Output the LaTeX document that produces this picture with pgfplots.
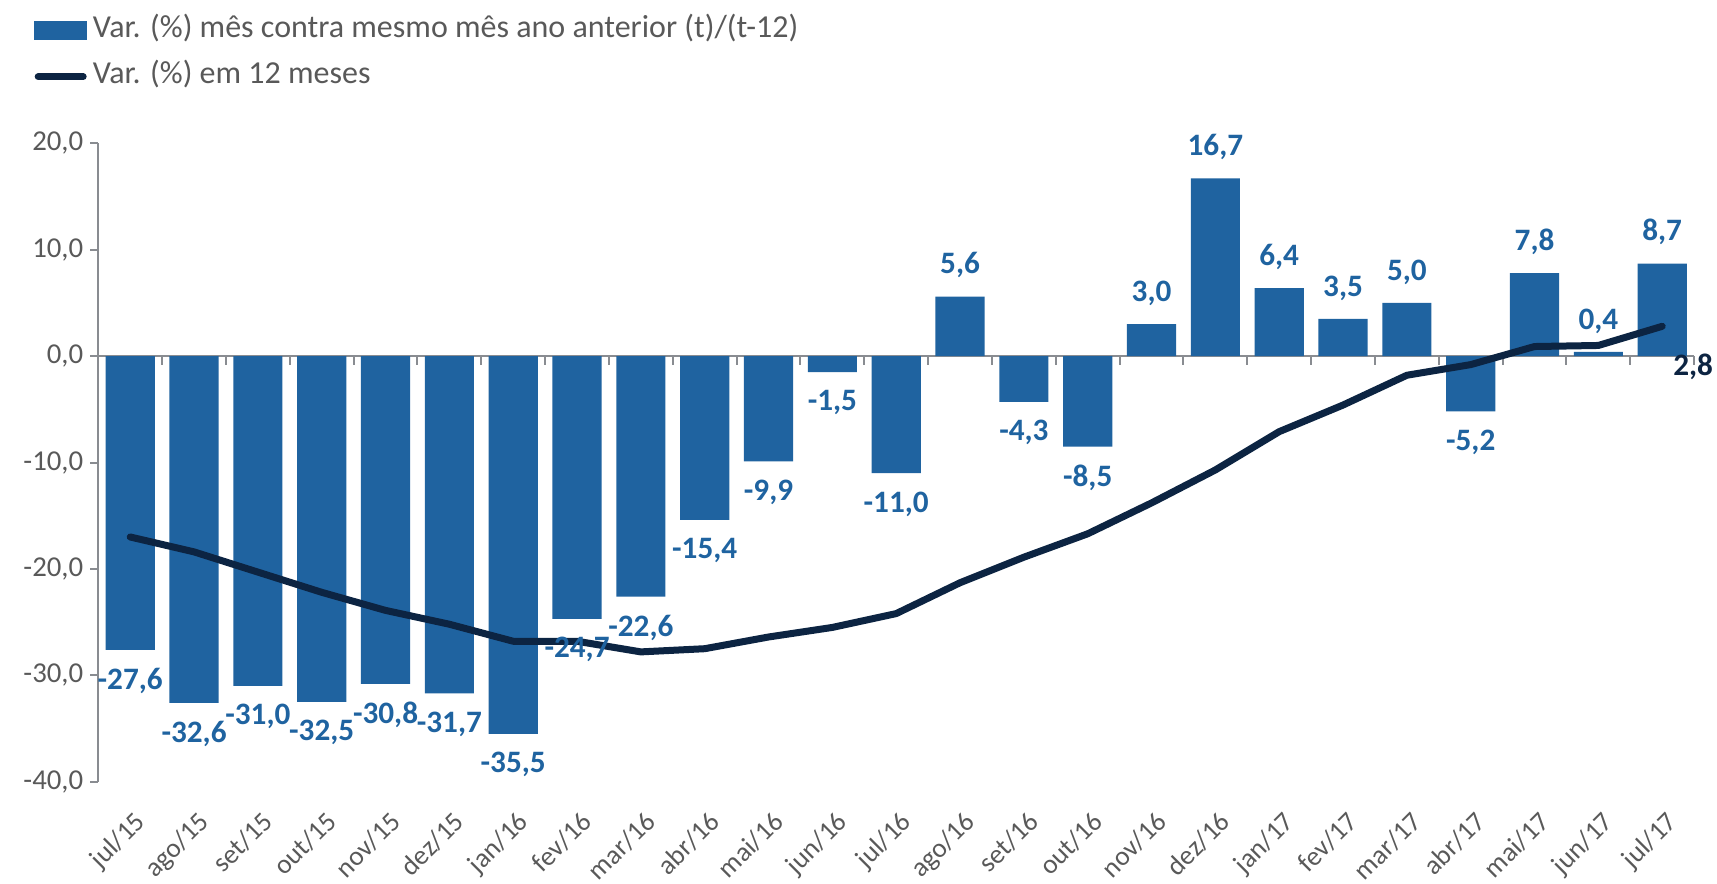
\documentclass[border=0pt]{standalone}
\usepackage{fontspec}
\setmainfont{Carlito}
\usepackage{pgfplots}
\pgfplotsset{compat=1.18}
\definecolor{barblue}{RGB}{31,99,160}
\definecolor{navy}{RGB}{12,36,66}
\definecolor{txtgray}{RGB}{89,89,89}
\definecolor{axgray}{RGB}{137,140,145}
\newcommand{\tickfont}{\fontsize{14.4bp}{17bp}\selectfont}
\newcommand{\xtickfont}{\fontsize{13.6bp}{16bp}\selectfont}
\newcommand{\labfont}{\bfseries\fontsize{15.6bp}{18bp}\selectfont}
\begin{document}
\begin{tikzpicture}
\useasboundingbox (-49.15bp,-51.15bp) rectangle (809.35bp,390.85bp);
\begin{axis}[
  at={(0,0)}, anchor=south west, scale only axis,
  width=797.9bp, height=319.2bp,
  xmin=-0.5, xmax=24.5, ymin=-40, ymax=20,
  axis lines*=left,
  x axis line style={draw=none},
  y axis line style={draw=axgray, line width=1bp, -},
  ytick={-40,-30,...,20},
  xtick={0,...,24},
  xticklabels={jul/15,ago/15,set/15,out/15,nov/15,dez/15,jan/16,fev/16,mar/16,abr/16,mai/16,jun/16,jul/16,ago/16,set/16,out/16,nov/16,dez/16,jan/17,fev/17,mar/17,abr/17,mai/17,jun/17,jul/17},
  tick align=outside,
  major tick length=4bp,
  xtick style={draw=none},
  ytick style={draw=axgray, line width=1bp},
  yticklabel style={font=\tickfont, text=txtgray, /pgf/number format/.cd, use comma, fixed, fixed zerofill, precision=1, assume math mode=true},
  xticklabel style={font=\xtickfont, text=txtgray, rotate=45, anchor=north east, inner sep=1bp, xshift=-4.9bp, yshift=-7bp},
  clip=false,
  legend style={at={(0,1)}, anchor=north west, xshift=-32.2bp, yshift=64bp,
    draw=none, fill=none, inner sep=0pt, row sep=8bp,
    font=\fontsize{16bp}{19bp}\selectfont, text=txtgray,
    nodes={inner sep=0pt, anchor=west, text height=11bp, text depth=4bp},
    /tikz/every odd column/.append style={column sep=2.9bp}},
  legend cell align=left,
]
\addlegendimage{legend image code/.code={\fill[barblue] (0bp,-4.5bp) rectangle (26bp,4.5bp);}}
\addlegendentry{Var. (\%) mês contra mesmo mês ano anterior (t)/(t-12)}
\addlegendimage{legend image code/.code={\draw[navy, line width=3.5bp, line cap=round] (1.75bp,0bp) -- (24.25bp,0bp);}}
\addlegendentry{Var. (\%) em 12 meses}
\draw[axgray, line width=1bp] (axis cs:-0.5,0) -- (axis cs:24.5,0);
\pgfplotsinvokeforeach{0.5,1.5,...,24.5}{\draw[axgray, line width=1bp] (axis cs:#1,0) -- ([yshift=-4.5bp]axis cs:#1,0);}
\addplot[ybar, bar width=0.77, fill=barblue, draw=none, forget plot,
  nodes near coords, nodes near coords align=vertical,
  every node near coord/.append style={font=\labfont, text=barblue, inner xsep=0pt, inner ysep=9bp,
    /pgf/number format/.cd, use comma, fixed, fixed zerofill, precision=1, assume math mode=true}]
coordinates {
(0,-27.6) (1,-32.6) (2,-31.0) (3,-32.5) (4,-30.8) (5,-31.7) (6,-35.5) (7,-24.7) (8,-22.6) (9,-15.4)
(10,-9.9) (11,-1.5) (12,-11.0) (13,5.6) (14,-4.3) (15,-8.5) (16,3.0) (17,16.7) (18,6.4) (19,3.5)
(20,5.0) (21,-5.2) (22,7.8) (23,0.4) (24,8.7)};
\addplot[navy, line width=3.5bp, line cap=round, line join=round, mark=none, forget plot]
coordinates {
(0,-17.0) (1,-18.4) (2,-20.3) (3,-22.2) (4,-23.9) (5,-25.2) (6,-26.8) (7,-26.8) (8,-27.8) (9,-27.5)
(10,-26.4) (11,-25.5) (12,-24.2) (13,-21.3) (14,-18.9) (15,-16.7) (16,-13.8) (17,-10.7) (18,-7.1) (19,-4.6)
(20,-1.8) (21,-0.8) (22,0.9) (23,1.0) (24,2.8)};
\node[font=\labfont, text=navy, anchor=north, inner sep=0pt] at ([xshift=15.5bp,yshift=-13.5bp]axis cs:24,2.8) {2,8};
\end{axis}
\end{tikzpicture}
\end{document}
